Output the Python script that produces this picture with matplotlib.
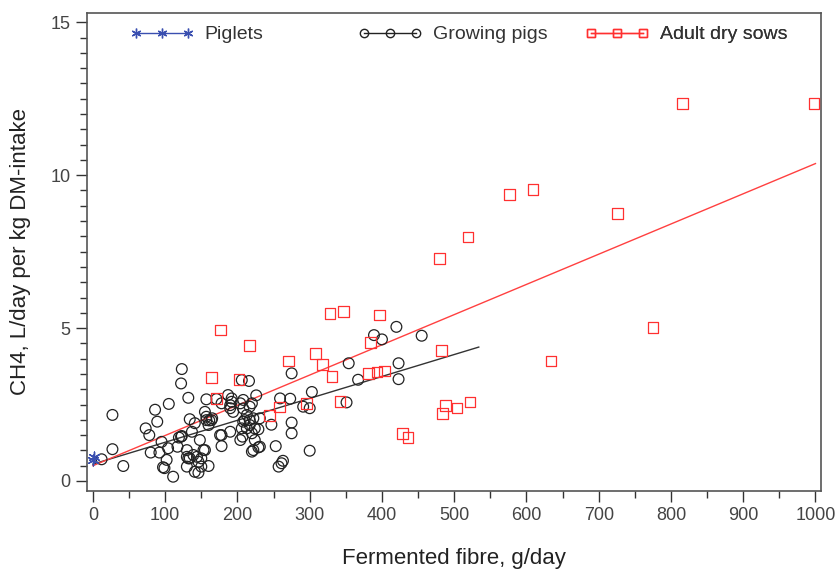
import matplotlib
matplotlib.use("Agg")
import matplotlib.pyplot as plt
from matplotlib.lines import Line2D
from matplotlib.ticker import MultipleLocator

plt.rcParams['font.family'] = ['Liberation Sans', 'DejaVu Sans']

# piglets
piglet_x = [0, 1]
piglet_y = [0.70, 0.78]

# growing pigs
grow_x = [12, 27, 27, 42, 73, 78, 80, 86, 89, 92, 95, 97, 99, 102, 104, 105, 111,
          117, 119, 122, 123, 122, 123, 130, 130, 130, 132, 132, 134, 134, 137, 139,
          141, 141, 144, 146, 146, 148, 150, 150, 153, 155, 155, 157, 157, 157, 160,
          160, 161, 164, 165, 171, 176, 178, 178, 178, 187, 190, 190, 190, 192, 192,
          194, 204, 204, 206, 206, 207, 208, 208, 208, 210, 213, 213, 216, 217, 217,
          217, 220, 220, 220, 222, 222, 224, 224, 226, 229, 229, 231, 231, 247, 253,
          257, 259, 261, 263, 273, 275, 275, 275, 291, 300, 300, 303, 351, 354, 367,
          389, 400, 420, 423, 423, 455]
grow_y = [0.71, 1.04, 2.16, 0.49, 1.72, 1.50, 0.93, 2.33, 1.94, 0.93, 1.28, 0.45, 0.42,
          0.69, 1.07, 2.52, 0.14, 1.12, 1.42, 1.45, 1.47, 3.19, 3.66, 0.47, 0.79, 1.01,
          0.74, 2.72, 2.02, 0.74, 1.61, 0.85, 1.89, 0.30, 0.79, 0.27, 0.63, 1.34, 0.47,
          0.74, 1.01, 2.26, 1.01, 2.67, 1.99, 2.10, 0.49, 1.83, 1.98, 1.99, 2.05, 2.68,
          1.50, 1.14, 2.54, 1.50, 2.81, 1.61, 2.38, 2.48, 2.59, 2.70, 2.26, 1.34, 2.54,
          3.30, 1.72, 1.45, 2.65, 2.37, 1.94, 1.99, 1.72, 2.16, 3.27, 1.99, 2.43, 1.83,
          2.54, 1.56, 0.96, 2.05, 1.01, 1.34, 1.72, 2.80, 1.69, 1.10, 2.05, 1.12, 1.84,
          1.14, 0.47, 2.70, 0.58, 0.66, 2.69, 3.52, 1.91, 1.56, 2.43, 2.38, 0.99, 2.91,
          2.57, 3.85, 3.31, 4.77, 4.63, 5.04, 3.85, 3.33, 4.75]

# adult dry sows
sow_x = [164, 171, 177, 202, 217, 244, 258, 271, 296, 308, 318, 328, 331, 342, 347,
         381, 384, 393, 397, 404, 428, 436, 480, 482, 484, 488, 504, 519, 522, 577,
         609, 634, 726, 775, 816, 998]
sow_y = [3.38, 2.70, 4.94, 3.33, 4.42, 2.15, 2.42, 3.92, 2.53, 4.18, 3.81, 5.47, 3.41,
         2.61, 5.54, 3.52, 4.53, 3.56, 5.43, 3.60, 1.55, 1.41, 7.28, 4.26, 2.21, 2.48,
         2.39, 7.98, 2.58, 9.37, 9.54, 3.92, 8.75, 5.01, 12.34, 12.34]

# fitted lines (intercept, slope, x range)
grow_fit = (0.55, 0.00717, 0, 534)
sow_fit = (0.50, 0.00988, 0, 1000)

blue = '#3a4fb0'
red = '#ff3030'
dark = '#222222'

fig = plt.figure(figsize=(8.38, 5.70), dpi=100)
ax = fig.add_axes([0.104, 0.139, 0.876, 0.838])

ax.scatter(grow_x, grow_y, s=60, facecolors='none', edgecolors=dark, linewidths=0.9, zorder=3)
ax.scatter(sow_x, sow_y, s=60, marker='s', facecolors='none', edgecolors=red, linewidths=0.9, zorder=3)
ax.scatter(piglet_x, piglet_y, s=60, marker=(6, 2, 0), color=blue, linewidths=1.0, zorder=4)

b0, b1, xa, xb = grow_fit
ax.plot([xa, xb], [b0 + b1 * xa, b0 + b1 * xb], color='#333333', lw=1.0, zorder=2)
b0, b1, xa, xb = sow_fit
ax.plot([xa, xb], [b0 + b1 * xa, b0 + b1 * xb], color='#ff4040', lw=1.0, zorder=2)

ax.set_xlim(-8, 1008)
ax.set_ylim(-0.32, 15.3)
ax.xaxis.set_major_locator(MultipleLocator(100))
ax.xaxis.set_minor_locator(MultipleLocator(50))
ax.yaxis.set_major_locator(MultipleLocator(5))
ax.yaxis.set_minor_locator(MultipleLocator(0.5))
ax.tick_params(which='major', length=8, width=1, color='#333333', labelsize=13,
               labelcolor='#444444', pad=4)
ax.tick_params(which='minor', length=5, width=1, color='#333333')
for sp in ax.spines.values():
    sp.set_color('#555555')
    sp.set_linewidth(1.2)

ax.set_xlabel('Fermented fibre, g/day', fontsize=16, color='#222222', labelpad=17)
ax.set_ylabel('CH4, L/day per kg DM-intake', fontsize=16, color='#222222', labelpad=14)

# legend: three separate entries placed like the original
entries = [
    (Line2D([], [], color=blue, lw=1, marker=(6, 2, 0), markersize=7), 'Piglets', 0.058),
    (Line2D([], [], color=dark, lw=1, marker='o', markersize=6, markerfacecolor='none'), 'Growing pigs', 0.369),
    (Line2D([], [], color=red, lw=1, marker='s', markersize=6, markerfacecolor='none'), 'Adult dry sows', 0.678),
]
for h, lab, xpos in entries:
    leg = ax.legend([h], [lab], loc='center left', bbox_to_anchor=(xpos, 0.955),
                    frameon=False, numpoints=3, handlelength=3.3, fontsize=14,
                    borderpad=0, borderaxespad=0, handletextpad=0.55, labelcolor='#333333')
    ax.add_artist(leg)

fig.savefig('out.png', dpi=100)
